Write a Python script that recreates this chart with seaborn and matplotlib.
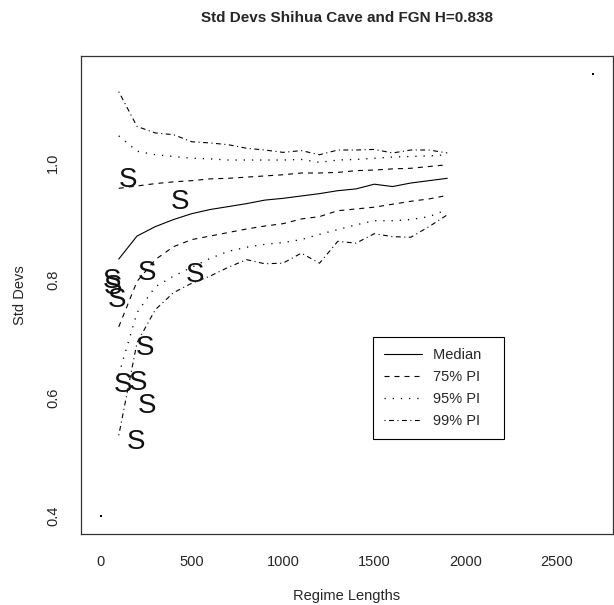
import numpy as np
import pandas as pd
import matplotlib
matplotlib.use('Agg')
import matplotlib.pyplot as plt
import seaborn as sns

# regime lengths used for the FGN simulation bands
regime = [100, 200, 300, 400, 500, 600, 700, 800, 900, 1000,
          1100, 1200, 1300, 1400, 1500, 1600, 1700, 1800, 1900]

median = [0.836, 0.875, 0.891, 0.903, 0.913, 0.920, 0.925, 0.930, 0.936, 0.939,
          0.943, 0.947, 0.952, 0.955, 0.963, 0.959, 0.965, 0.969, 0.973]
pi75_hi = [0.956, 0.960, 0.964, 0.967, 0.969, 0.972, 0.973, 0.975, 0.977, 0.979,
           0.982, 0.982, 0.983, 0.986, 0.987, 0.989, 0.990, 0.993, 0.996]
pi75_lo = [0.721, 0.798, 0.835, 0.857, 0.869, 0.875, 0.881, 0.887, 0.892, 0.896,
           0.904, 0.908, 0.918, 0.921, 0.924, 0.929, 0.934, 0.938, 0.944]
pi95_hi = [1.045, 1.019, 1.013, 1.010, 1.007, 1.006, 1.004, 1.004, 1.004, 1.004,
           1.005, 1.000, 1.004, 1.005, 1.007, 1.009, 1.010, 1.011, 1.013]
pi95_lo = [0.640, 0.745, 0.789, 0.807, 0.822, 0.837, 0.849, 0.856, 0.861, 0.864,
           0.869, 0.878, 0.886, 0.894, 0.901, 0.901, 0.903, 0.908, 0.920]
pi99_hi = [1.120, 1.061, 1.050, 1.047, 1.035, 1.033, 1.030, 1.024, 1.021, 1.017,
           1.020, 1.013, 1.021, 1.021, 1.022, 1.016, 1.021, 1.021, 1.016]
pi99_lo = [0.537, 0.694, 0.750, 0.779, 0.795, 0.807, 0.822, 0.835, 0.828, 0.829,
           0.846, 0.829, 0.866, 0.863, 0.879, 0.874, 0.873, 0.891, 0.911]

# Shihua Cave observed regimes (plotted as "S")
cave_len = [152, 435, 253, 517, 62, 70, 89, 244, 125, 207, 253, 193]
cave_sd = [0.970, 0.932, 0.812, 0.809, 0.798, 0.789, 0.767, 0.685, 0.622, 0.625, 0.586, 0.526]

# corner points that set the plot range
corner_x = [0, 2700]
corner_y = [0.4, 1.15]

sns.set_style("white")
plt.rcParams['font.family'] = ['Liberation Sans', 'DejaVu Sans']
plt.rcParams['lines.scale_dashes'] = False

fig = plt.figure(figsize=(6.14, 6.05), dpi=100)
ax = fig.add_axes([80.8 / 614, (605 - 533.7) / 605, 532.2 / 614, 477.4 / 605])

lw = 0.8
dashed = (0, (3.6, 3.6))
dotted = (0, (0.9, 5.0))
dotdash = (0, (0.8, 2.5, 3.5, 2.5))

sns.lineplot(x=regime, y=median, ax=ax, color='black', lw=lw, label='Median   ')
sns.lineplot(x=regime, y=pi75_hi, ax=ax, color='black', lw=lw, linestyle=dashed, label='75% PI')
sns.lineplot(x=regime, y=pi75_lo, ax=ax, color='black', lw=lw, linestyle=dashed)
sns.lineplot(x=regime, y=pi95_hi, ax=ax, color='black', lw=0.95, linestyle=dotted, label='95% PI')
sns.lineplot(x=regime, y=pi95_lo, ax=ax, color='black', lw=0.95, linestyle=dotted)
sns.lineplot(x=regime, y=pi99_hi, ax=ax, color='black', lw=lw, linestyle=dotdash, label='99% PI')
sns.lineplot(x=regime, y=pi99_lo, ax=ax, color='black', lw=lw, linestyle=dotdash)

sns.scatterplot(x=corner_x, y=corner_y, ax=ax, color='black', marker='s', s=2, linewidth=0)

for xs, ys in zip(cave_len, cave_sd):
    ax.text(xs, ys, 'S', ha='center', va='center', fontsize=20, color='#111111')

ax.set_xlim(-108, 2808)
ax.set_ylim(0.37, 1.18)
ax.set_xticks([0, 500, 1000, 1500, 2000, 2500])
ax.set_yticks([0.4, 0.6, 0.8, 1.0])
ax.set_yticklabels(['0.4', '0.6', '0.8', '1.0'], rotation=90, va='center')
ax.tick_params(axis='both', direction='out', length=6, width=0.8, color='#333333',
               labelsize=10.5, pad=9)
for sp in ax.spines.values():
    sp.set_visible(True)
    sp.set_color('#333333')
    sp.set_linewidth(0.9)

ax.set_xlabel('Regime Lengths', fontsize=10.5, labelpad=15)
ax.set_ylabel('Std Devs', fontsize=10.5, labelpad=14)
fig.suptitle('Std Devs Shihua Cave and FGN H=0.838', fontsize=11, fontweight='bold',
             x=(80.8 + 613) / 2 / 614, y=1 - 18 / 605, va='center')

ax.legend(loc='upper left', bbox_to_anchor=(0.5496, 0.411), borderaxespad=0,
          fancybox=False, edgecolor='black', framealpha=1, fontsize=10.5,
          handlelength=2.6, handletextpad=0.75, labelspacing=0.55, borderpad=0.72)
ax.get_legend().get_frame().set_linewidth(0.8)

fig.savefig('out.png', dpi=100)
